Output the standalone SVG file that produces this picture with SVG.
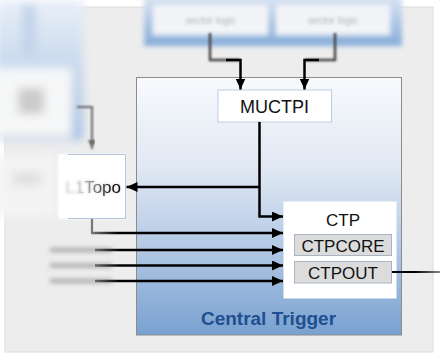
<svg xmlns="http://www.w3.org/2000/svg" width="440" height="354" viewBox="0 0 440 354">
  <style>
    .lbl { font-family: "Liberation Sans", Arial, sans-serif; fill: #111; text-anchor: middle; }
    .wire { fill: none; stroke: #000; stroke-width: 2.5; }
    .sub { fill: #dcdcdc; stroke: #a9b5c2; stroke-width: 1; }
  </style>
  <defs>
    <marker id="arrow" markerUnits="userSpaceOnUse" markerWidth="12" markerHeight="10" refX="11" refY="5" orient="auto">
      <path d="M0,0 L11,5 L0,10 Z" fill="#000"/>
    </marker>
    <marker id="arrowGray" markerUnits="userSpaceOnUse" markerWidth="10" markerHeight="8" refX="9" refY="4" orient="auto">
      <path d="M0,0 L9,4 L0,8 Z" fill="#666"/>
    </marker>
    <linearGradient id="ctFill" x1="0" y1="0" x2="0" y2="1">
      <stop offset="0" stop-color="#f8fafd"/>
      <stop offset="0.35" stop-color="#e0e8f3"/>
      <stop offset="0.6" stop-color="#bccfe8"/>
      <stop offset="1" stop-color="#79a1d1"/>
    </linearGradient>
    <linearGradient id="leftPanel" x1="0" y1="0" x2="0" y2="1">
      <stop offset="0" stop-color="#eaf0f8"/>
      <stop offset="1" stop-color="#a3bfe2"/>
    </linearGradient>
    <linearGradient id="topPanel" x1="0" y1="0" x2="0" y2="1">
      <stop offset="0" stop-color="#dfe8f4"/>
      <stop offset="1" stop-color="#86acd8"/>
    </linearGradient>
    <linearGradient id="fadeIn" gradientUnits="userSpaceOnUse" x1="95" y1="0" x2="120" y2="0">
      <stop offset="0" stop-color="#6a6a6a"/>
      <stop offset="1" stop-color="#000"/>
    </linearGradient>
    <linearGradient id="fadeTopo" gradientUnits="userSpaceOnUse" x1="92" y1="0" x2="118" y2="0">
      <stop offset="0" stop-color="#777"/>
      <stop offset="1" stop-color="#000"/>
    </linearGradient>
    <linearGradient id="fadeOut" gradientUnits="userSpaceOnUse" x1="415" y1="0" x2="440" y2="0">
      <stop offset="0" stop-color="#000"/>
      <stop offset="1" stop-color="#8a8a8a"/>
    </linearGradient>
    <linearGradient id="textFade" gradientUnits="userSpaceOnUse" x1="76" y1="0" x2="112" y2="0">
      <stop offset="0" stop-color="#fff" stop-opacity="0"/>
      <stop offset="1" stop-color="#fff" stop-opacity="1"/>
    </linearGradient>
    <mask id="topoMask" maskUnits="userSpaceOnUse" x="0" y="140" width="140" height="90">
      <rect x="0" y="140" width="140" height="90" fill="url(#textFade)"/>
    </mask>
    <filter id="blurHeavy" x="-20%" y="-20%" width="140%" height="140%"><feGaussianBlur stdDeviation="5"/></filter>
    <filter id="blurMid" x="-20%" y="-30%" width="140%" height="160%"><feGaussianBlur stdDeviation="2.5"/></filter>
    <filter id="blurText" x="-20%" y="-50%" width="140%" height="200%"><feGaussianBlur stdDeviation="1.6"/></filter>
    <filter id="blurSoft" x="-20%" y="-50%" width="140%" height="200%"><feGaussianBlur stdDeviation="1.2"/></filter>
  </defs>

  <!-- page -->
  <rect width="440" height="354" fill="#fff"/>
  <rect x="5" y="7" width="428" height="345" fill="#ededed" stroke="#dcdcdc" stroke-width="1"/>

  <!-- out-of-focus neighbours -->
  <g id="sector-logic">
    <g filter="url(#blurMid)">
      <rect x="144" y="-6" width="258" height="52" fill="url(#topPanel)"/>
      <rect x="153" y="5" width="115" height="30" fill="#f2f4f8"/>
      <rect x="276" y="5" width="114" height="30" fill="#f2f4f8"/>
    </g>
    <g filter="url(#blurText)" font-family="Liberation Sans, Arial, sans-serif" font-size="10" fill="#b4b4b4" text-anchor="middle">
      <text x="211" y="24">sector logic</text>
      <text x="333" y="24">sector logic</text>
    </g>
  </g>
  <g id="left-panel" filter="url(#blurHeavy)">
    <rect x="-5" y="0" width="88" height="140" fill="url(#leftPanel)"/>
    <rect x="22" y="5" width="14" height="50" fill="#c3d3e9"/>
    <rect x="-5" y="68" width="77" height="69" fill="#f6f7f8"/>
    <rect x="18" y="88" width="26" height="26" fill="#cbcbcb"/>
    <rect x="-5" y="156" width="60" height="60" fill="#f4f4f4"/>
    <rect x="12" y="172" width="30" height="14" fill="#e0e0e0"/>
  </g>

  <!-- Central Trigger -->
  <g id="central-trigger">
    <rect x="136.5" y="77.5" width="265" height="257.5" fill="url(#ctFill)" stroke="#8c8c8c" stroke-width="1"/>
    <text x="268.5" y="325" font-family="Liberation Sans, Arial, sans-serif" font-size="19" font-weight="bold" fill="#1f4f8f" text-anchor="middle">Central Trigger</text>
  </g>

  <g id="muctpi">
    <rect x="218" y="90" width="113.5" height="32" fill="#fff" stroke="#bccde3" stroke-width="1"/>
    <text class="lbl" x="274.5" y="113" font-size="18">MUCTPI</text>
  </g>

  <g id="l1topo">
    <rect x="58" y="154" width="67.5" height="65" fill="#fff" filter="url(#blurSoft)"/>
    <rect x="72" y="154.5" width="53" height="64" fill="#fff"/>
    <path d="M68,154.5 H125.5 V218.5 H68" fill="none" stroke="#b3c5dc" stroke-width="1"/>
    <text x="121" y="193" font-family="Liberation Sans, Arial, sans-serif" font-size="17" fill="#c8c8c8" text-anchor="end" filter="url(#blurText)">L1Topo</text>
    <text x="121" y="193" font-family="Liberation Sans, Arial, sans-serif" font-size="17" fill="#111" text-anchor="end" mask="url(#topoMask)">L1Topo</text>
  </g>

  <g id="ctp">
    <rect x="283.5" y="201.5" width="113" height="97" fill="#fff"/>
    <text class="lbl" x="343" y="226" font-size="17">CTP</text>
  </g>
  <g id="ctpcore">
    <rect class="sub" x="294.5" y="234.5" width="97" height="21"/>
    <text class="lbl" x="343" y="251.5" font-size="17">CTPCORE</text>
  </g>
  <g id="ctpout">
    <rect class="sub" x="294.5" y="261.5" width="97" height="21.5"/>
    <text class="lbl" x="343" y="278.5" font-size="17">CTPOUT</text>
  </g>

  <!-- connectors -->
  <g id="connectors">
    <!-- from the sector logic boards into MUCTPI -->
    <path d="M210,33 V60 H240" fill="none" stroke="#444" stroke-width="2.5" filter="url(#blurSoft)"/>
    <path d="M335,33 V60 H305" fill="none" stroke="#444" stroke-width="2.5" filter="url(#blurSoft)"/>
    <path class="wire" d="M226,60 H240.5 V89.5" marker-end="url(#arrow)"/>
    <path class="wire" d="M319,60 H304.5 V89.5" marker-end="url(#arrow)"/>

    <!-- MUCTPI to CTP and to L1Topo -->
    <path class="wire" d="M259.5,122 V216.5 H283" marker-end="url(#arrow)"/>
    <path class="wire" d="M259.5,187 H126.5" marker-end="url(#arrow)"/>

    <!-- left panel down into L1Topo -->
    <path d="M77,107 H92 V149" fill="none" stroke="#666" stroke-width="2" marker-end="url(#arrowGray)" filter="url(#blurSoft)"/>

    <!-- L1Topo to CTP -->
    <path d="M92,219 V233" fill="none" stroke="#777" stroke-width="2.2"/>
    <path d="M91,233 H283" fill="none" stroke="url(#fadeTopo)" stroke-width="2.5" marker-end="url(#arrow)"/>

    <!-- other trigger inputs, fading in from the left -->
    <g filter="url(#blurMid)" stroke="#8e8e8e" stroke-width="3">
      <line x1="50" y1="250" x2="112" y2="250"/>
      <line x1="50" y1="265.5" x2="112" y2="265.5"/>
      <line x1="50" y1="281" x2="112" y2="281"/>
    </g>
    <path d="M95,250 H283" fill="none" stroke="url(#fadeIn)" stroke-width="2.5" marker-end="url(#arrow)"/>
    <path d="M95,265.5 H283" fill="none" stroke="url(#fadeIn)" stroke-width="2.5" marker-end="url(#arrow)"/>
    <path d="M95,281 H283" fill="none" stroke="url(#fadeIn)" stroke-width="2.5" marker-end="url(#arrow)"/>

    <!-- CTPOUT output -->
    <path d="M392,272 H440" fill="none" stroke="url(#fadeOut)" stroke-width="2"/>
  </g>
</svg>
